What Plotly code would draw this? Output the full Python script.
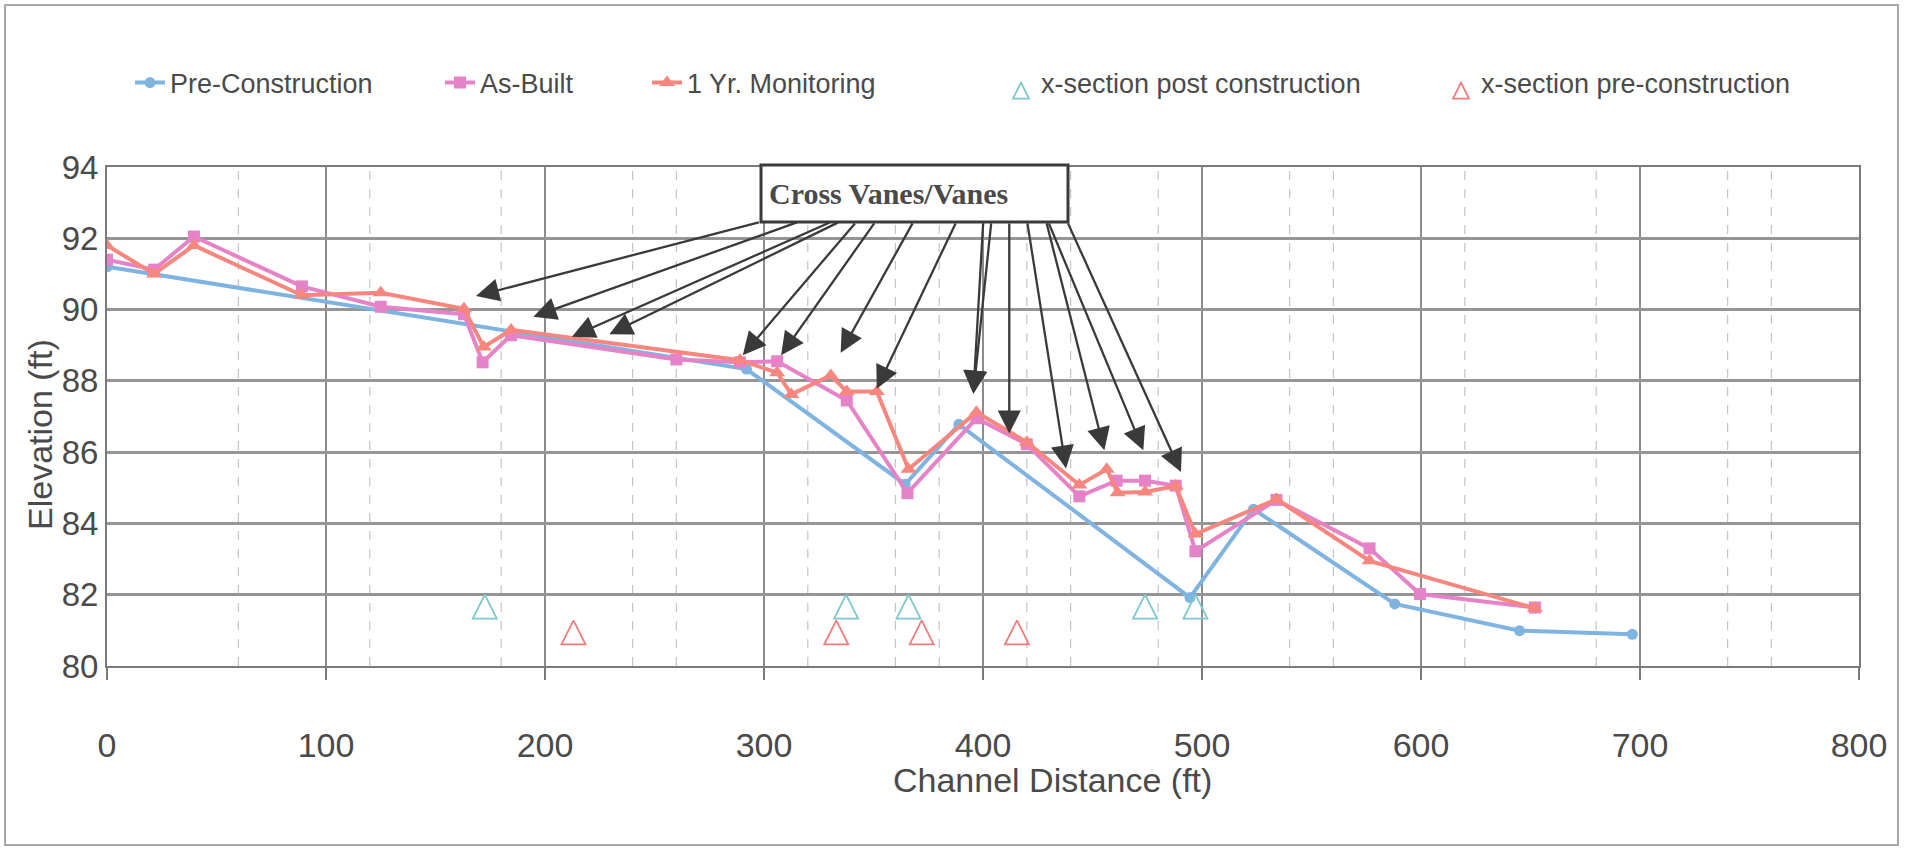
import plotly.graph_objects as go

# ---------------- data ----------------
pre_x = [0, 292, 364.5, 389, 494.5, 523.5, 588, 645, 696.5]
pre_y = [91.2, 88.33, 85.1, 86.78, 81.92, 84.4, 81.74, 80.99, 80.89]

asb_x = [0, 21.5, 39.7, 89, 125, 163, 171.5, 184.5, 260, 289, 306, 337.8, 365.5,
         397, 420, 444, 461, 474, 488, 497, 534, 576.5, 599.5, 652]
asb_y = [91.4, 91.12, 92.05, 90.65, 90.08, 89.87, 88.52, 89.28, 88.6, 88.52, 88.55, 87.45, 84.85,
         86.95, 86.22, 84.76, 85.2, 85.2, 85.06, 83.22, 84.66, 83.3, 82.02, 81.64]

mon_x = [0, 21.5, 39.7, 89, 125, 163, 172, 184.5, 289, 306, 312.5, 330.5, 337.8, 351.5,
         366, 397, 420, 444, 456.5, 461.5, 474, 488, 497, 534, 576.5, 652]
mon_y = [91.8, 91.0, 91.8, 90.4, 90.47, 90.02, 88.95, 89.43, 88.58, 88.23, 87.62, 88.15, 87.7, 87.7,
         85.52, 87.12, 86.28, 85.08, 85.52, 84.86, 84.88, 85.05, 83.7, 84.68, 82.95, 81.62]

xs_post_x = [172.5, 337.5, 366, 474, 497]
xs_post_y = [82.0, 82.0, 82.0, 82.0, 82.0]

xs_pre_x = [213, 333, 372, 415.5]
xs_pre_y = [81.28, 81.28, 81.28, 81.28]

x_ticks = [0, 100, 200, 300, 400, 500, 600, 700, 800]
y_ticks = [80, 82, 84, 86, 88, 90, 92, 94]

# arrows: tip (x, y) and tail (x, y) in data units
arrow_tip_x = [168.5, 194.7, 212.3, 229.4, 290.3, 307.8, 335.0, 351.5, 395.6, 395.6,
               412.0, 437.9, 455.4, 473.2, 490.4]
arrow_tip_y = [90.38, 89.80, 89.24, 89.31, 88.72, 88.72, 88.79, 87.78, 87.64, 87.64,
               86.52, 85.54, 86.05, 86.05, 85.44]
arrow_tail_x = [298.3, 315.7, 330.7, 334.4, 342.1, 350.8, 368.2, 387.8, 400.1, 403.8,
                412.0, 420.2, 428.9, 429.8, 438.5]
arrow_tail_y = [92.46] * 15

minor_grid_x = [60, 120, 180, 240, 260, 320, 360, 380, 420, 440, 480, 540, 560, 620, 680, 740, 760]

# ---------------- figure ----------------
W, H = 1915, 849
ML, MR, MT, MB = 107, 56, 167, 183
PW = W - ML - MR
PH = H - MT - MB


def px_to_paper_x(px):
    return (px - ML) / PW


def px_to_paper_y(py):
    return (H - MB - py) / PH


BLUE = "#7fb3e0"
PINK = "#e683c8"
RED = "#f7867f"
CYAN = "#7cc8ca"
RED2 = "#f07d7d"
TXT = "#4a4a4a"

fig = go.Figure()

fig.add_trace(go.Scatter(x=pre_x, y=pre_y, mode="lines+markers", name="Pre-Construction",
                         line=dict(color=BLUE, width=4),
                         marker=dict(symbol="circle", size=11, color=BLUE),
                         legend="legend"))
fig.add_trace(go.Scatter(x=asb_x, y=asb_y, mode="lines+markers", name="As-Built",
                         line=dict(color=PINK, width=4),
                         marker=dict(symbol="square", size=12, color=PINK),
                         legend="legend2"))
fig.add_trace(go.Scatter(x=mon_x, y=mon_y, mode="lines+markers", name="1 Yr. Monitoring",
                         line=dict(color=RED, width=4),
                         marker=dict(symbol="triangle-up", size=14, color=RED),
                         legend="legend3"))
fig.add_trace(go.Scatter(x=xs_post_x, y=xs_post_y, mode="markers", name="x-section post construction",
                         marker=dict(symbol="arrow-up-open", size=24, color=CYAN,
                                     line=dict(color=CYAN, width=1.8)),
                         legend="legend4"))
fig.add_trace(go.Scatter(x=xs_pre_x, y=xs_pre_y, mode="markers", name="x-section pre-construction",
                         marker=dict(symbol="arrow-up-open", size=24, color=RED2,
                                     line=dict(color=RED2, width=1.8)),
                         legend="legend5"))

legend_common = dict(orientation="h", yanchor="middle", xanchor="left",
                     y=px_to_paper_y(83), bgcolor="rgba(0,0,0,0)", borderwidth=0,
                     font=dict(family="Liberation Sans, Arial, sans-serif", size=27, color=TXT),
                     itemwidth=30)
legend_left_px = [130, 440, 647, 1001, 1441]

shapes = []
for gx in minor_grid_x:
    shapes.append(dict(type="line", xref="x", yref="paper", x0=gx, x1=gx, y0=0, y1=1,
                       line=dict(color="#c4c4c4", width=1.2, dash="dash"), layer="below"))
# annotation box
shapes.append(dict(type="rect", xref="paper", yref="paper",
                   x0=px_to_paper_x(761), x1=px_to_paper_x(1068),
                   y0=px_to_paper_y(222), y1=px_to_paper_y(165),
                   line=dict(color="#3a3a3a", width=3), fillcolor="white", layer="above"))
# outer frame
shapes.append(dict(type="rect", xref="paper", yref="paper",
                   x0=px_to_paper_x(5), x1=px_to_paper_x(1898),
                   y0=px_to_paper_y(845), y1=px_to_paper_y(5),
                   line=dict(color="#a8a8a8", width=2), layer="below"))

annotations = []
for tx, ty, ax, ay in zip(arrow_tip_x, arrow_tip_y, arrow_tail_x, arrow_tail_y):
    annotations.append(dict(x=tx, y=ty, ax=ax, ay=ay, xref="x", yref="y", axref="x", ayref="y",
                            text="", showarrow=True, arrowhead=2, arrowsize=2.0, arrowwidth=2.3,
                            arrowcolor="#3a3a3a", standoff=0, startstandoff=0))
annotations.append(dict(x=px_to_paper_x(767), y=px_to_paper_y(193), xref="paper", yref="paper",
                        xanchor="left", yanchor="middle", showarrow=False,
                        text="<b>Cross Vanes/Vanes</b>",
                        font=dict(family="Liberation Serif, Times New Roman, serif", size=30, color=TXT)))
annotations.append(dict(x=px_to_paper_x(1052), y=px_to_paper_y(780), xref="paper", yref="paper",
                        xanchor="center", yanchor="middle", showarrow=False,
                        text="Channel Distance (ft)",
                        font=dict(family="Liberation Sans, Arial, sans-serif", size=34, color=TXT)))
annotations.append(dict(x=px_to_paper_x(40), y=px_to_paper_y(435), xref="paper", yref="paper",
                        xanchor="center", yanchor="middle", showarrow=False, textangle=-90,
                        text="Elevation (ft)",
                        font=dict(family="Liberation Sans, Arial, sans-serif", size=34, color=TXT)))

layout = dict(
    width=W, height=H,
    margin=dict(l=ML, r=MR, t=MT, b=MB, pad=0),
    paper_bgcolor="white", plot_bgcolor="white",
    font=dict(family="Liberation Sans, Arial, sans-serif", color=TXT),
    xaxis=dict(range=[0, 800], tickvals=x_ticks, showgrid=True, gridcolor="#8c8c8c", gridwidth=1.5,
               zeroline=False, showline=True, linecolor="#7a7a7a", linewidth=2, mirror=True,
               ticks="outside", ticklen=12, tickwidth=1.5, tickcolor="#7a7a7a",
               tickfont=dict(size=34, color=TXT), ticklabelstandoff=36),
    yaxis=dict(range=[80, 94], tickvals=y_ticks, showgrid=True, gridcolor="#959595", gridwidth=2.6,
               zeroline=False, showline=True, linecolor="#7a7a7a", linewidth=2, mirror=True,
               ticks="", tickfont=dict(size=33, color=TXT)),
    shapes=shapes,
    annotations=annotations,
    showlegend=True,
)
for i, lx in enumerate(legend_left_px):
    key = "legend" if i == 0 else f"legend{i + 1}"
    layout[key] = dict(legend_common, x=px_to_paper_x(lx))

fig.update_layout(**layout)

fig.write_html("out.html", config={"displayModeBar": False},
               post_script="document.body.style.margin='0';document.body.style.overflow='hidden';")
